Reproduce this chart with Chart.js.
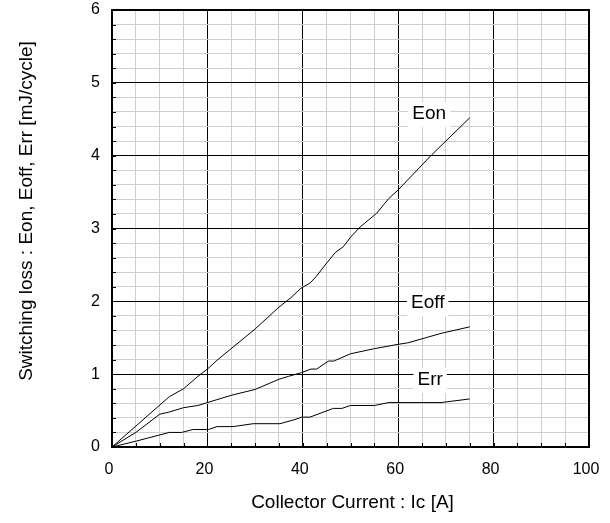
<!DOCTYPE html>
<html>
<head>
<meta charset="utf-8">
<script src="https://cdn.jsdelivr.net/npm/chart.js@4.4.1/dist/chart.umd.min.js"></script>
<style>
  html, body { margin: 0; padding: 0; background: #fff; }
  #wrap { width: 610px; height: 523px; position: relative; }
</style>
</head>
<body>
<div id="wrap"><canvas id="lossChart"></canvas></div>
<script>
// Eon curve : collector current [A] / energy [mJ/cycle]
const eonCurrent = [0, 12, 15, 18, 20, 22, 30, 35, 37.5, 39.6, 41.5, 42.8, 44.7, 46.8, 48.5, 50, 52, 55.5, 58, 60, 67, 75];
const eonEnergy = [0, 0.69, 0.8, 0.97, 1.07, 1.19, 1.62, 1.92, 2.05, 2.18, 2.25, 2.34, 2.5, 2.67, 2.75, 2.88, 3.02, 3.21, 3.41, 3.53, 4.01, 4.52];

// Eoff curve
const eoffCurrent = [0, 5, 10, 12, 15, 18, 20, 22, 25, 30, 35, 37, 39.7, 41.7, 42.9, 45.4, 46.5, 50, 55, 60, 62, 69, 75];
const eoffEnergy = [0, 0.2, 0.45, 0.48, 0.54, 0.57, 0.61, 0.65, 0.71, 0.79, 0.93, 0.97, 1.02, 1.07, 1.07, 1.18, 1.18, 1.28, 1.35, 1.41, 1.43, 1.56, 1.65];

// Err curve
const errCurrent = [0, 5, 10, 12, 14.6, 17, 20.2, 22, 25.4, 29.6, 35.2, 38, 39.8, 41.5, 46.4, 48.2, 50, 55, 58, 69, 75];
const errEnergy = [0, 0.08, 0.165, 0.2, 0.2, 0.24, 0.24, 0.28, 0.28, 0.32, 0.32, 0.37, 0.41, 0.41, 0.53, 0.53, 0.57, 0.57, 0.61, 0.61, 0.66];

// curve names and where they are written (data units)
const curveNames = ["Eon", "Eoff", "Err"];
const nameAtX = [66.5, 66.2, 66.7];
const nameAtY = [4.57, 1.975, 0.92];

const FONT = "'Liberation Sans', Arial, sans-serif";

function toPoints(xs, ys) {
  return xs.map((x, i) => ({ x: x, y: ys[i] }));
}

function isMajorY(v) {
  return Math.abs(v - Math.round(v)) < 1e-6;
}
function isMajorX(v) {
  return Math.abs(v % 20) < 1e-6;
}

function lineSet(label, xs, ys) {
  return {
    label: label,
    data: toPoints(xs, ys),
    showLine: true,
    borderColor: "#000",
    borderWidth: 1,
    pointRadius: 0,
    tension: 0,
    fill: false,
  };
}

// white boxes + curve names, inside ticks, frame, axis titles
const curveLabels = {
  id: "curveLabels",
  beforeDatasetsDraw(chart) {
    const c = chart.ctx;
    const xs = chart.scales.x, ys = chart.scales.y;
    c.save();
    c.font = "19px " + FONT;
    c.textAlign = "center";
    c.textBaseline = "middle";
    curveNames.forEach((name, i) => {
      const px = xs.getPixelForValue(nameAtX[i]);
      const py = ys.getPixelForValue(nameAtY[i]);
      const w = c.measureText(name).width + 8;
      c.fillStyle = "#fff";
      c.fillRect(px - w / 2, py - 12, w, 25);
      c.fillStyle = "#000";
      c.fillText(name, px, py);
    });
    c.restore();
  },
  afterDraw(chart) {
    const c = chart.ctx;
    const a = chart.chartArea;
    const xs = chart.scales.x, ys = chart.scales.y;
    c.save();
    c.strokeStyle = "#000";
    c.lineWidth = 1;
    ys.ticks.forEach((t) => {
      const py = Math.round(ys.getPixelForValue(t.value)) + 0.5;
      c.beginPath();
      c.moveTo(a.left, py);
      c.lineTo(a.left + 4, py);
      c.stroke();
    });
    xs.ticks.forEach((t) => {
      const px = Math.round(xs.getPixelForValue(t.value)) + 0.5;
      c.beginPath();
      c.moveTo(px, a.bottom);
      c.lineTo(px, a.bottom - 4);
      c.stroke();
    });
    c.lineWidth = 2;
    c.strokeRect(a.left, a.top, a.right - a.left, a.bottom - a.top);
    c.fillStyle = "#000";
    c.font = "19px " + FONT;
    c.textAlign = "center";
    c.textBaseline = "middle";
    c.fillText("Collector Current : Ic [A]", (a.left + a.right) / 2 + 2, 503);
    c.translate(27, 211);
    c.rotate(-Math.PI / 2);
    c.fillText("Switching loss : Eon, Eoff, Err [mJ/cycle]", 0, 0);
    c.restore();
  },
};

const ctx = document.getElementById("lossChart").getContext("2d");
const lossChart = new Chart(ctx, {
  type: "scatter",
  data: {
    datasets: [
      lineSet("Eon", eonCurrent, eonEnergy),
      lineSet("Eoff", eoffCurrent, eoffEnergy),
      lineSet("Err", errCurrent, errEnergy),
    ],
  },
  options: {
    responsive: true,
    maintainAspectRatio: false,
    animation: false,
    layout: { padding: { top: 10, right: 21, left: 0, bottom: 0 } },
    plugins: { legend: { display: false }, tooltip: { enabled: false } },
    scales: {
      x: {
        type: "linear",
        min: 0,
        max: 100,
        afterFit: (s) => {
          s.height = 76;
          s.paddingLeft = 0;
          s.paddingRight = 0;
        },
        border: { display: false },
        grid: {
          drawTicks: false,
          color: (c) => (isMajorX(c.tick.value) ? "#000" : "#cfcfcf"),
          lineWidth: 1,
        },
        ticks: {
          stepSize: 5,
          autoSkip: false,
          maxRotation: 0,
          padding: 13,
          labelOffset: -3,
          color: "#000",
          font: { family: FONT, size: 16 },
          callback: (v) => (isMajorX(v) ? String(v) : ""),
        },
      },
      y: {
        type: "linear",
        min: 0,
        max: 6,
        afterFit: (s) => {
          s.width = 112;
          s.paddingTop = 0;
          s.paddingBottom = 0;
        },
        border: { display: false },
        grid: {
          drawTicks: false,
          color: (c) => (isMajorY(c.tick.value) ? "#000" : "#cfcfcf"),
          lineWidth: 1,
        },
        ticks: {
          stepSize: 0.2,
          autoSkip: false,
          padding: 12,
          color: "#000",
          font: { family: FONT, size: 16 },
          callback: (v) => (isMajorY(v) ? String(Math.round(v)) : ""),
        },
      },
    },
  },
  plugins: [curveLabels],
});
</script>
</body>
</html>
